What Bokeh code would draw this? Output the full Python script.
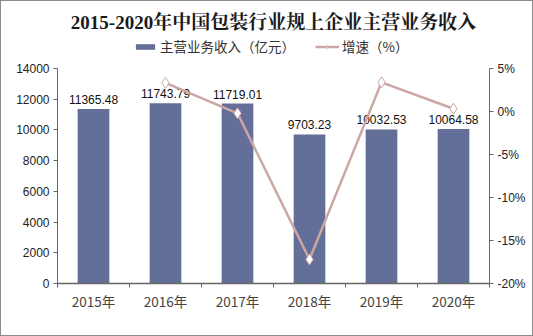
from bokeh.plotting import figure
from bokeh.models import (Range1d, LinearAxis, FixedTicker, PrintfTickFormatter,
                          Legend, LegendItem, ColumnDataSource)
from bokeh.core.properties import value
from bokeh.embed import file_html
from bokeh.resources import INLINE

years = ["2015年", "2016年", "2017年", "2018年", "2019年", "2020年"]
revenue = [11365.48, 11743.79, 11719.01, 9703.23, 10032.53, 10064.58]
growth = [None, 3.33, -0.21, -17.20, 3.39, 0.32]
rev_labels = ["11365.48", "11743.79", "11719.01", "9703.23", "10032.53", "10064.58"]
rev_ticks = [0, 2000, 4000, 6000, 8000, 10000, 12000, 14000]
pct_ticks = [-20, -15, -10, -5, 0, 5]

xs = [i + 0.5 for i in range(len(years))]
BAR = "#646f99"
LINE = "#cba6a4"
CJK = "Noto Sans CJK SC"

W, H = 533, 336
TOP, BOTTOM, LEFT, RIGHT = 32, 54, 56, 45
AX_TOP = 67  # pixel row of 14000 / 5%
frame_h = H - TOP - BOTTOM
axis_h = H - AX_TOP - BOTTOM
y_end = rev_ticks[-1] * frame_h / axis_h
p_end = pct_ticks[0] + (pct_ticks[-1] - pct_ticks[0]) * frame_h / axis_h

p = figure(width=W, height=H, output_backend="svg", toolbar_location=None,
           x_range=Range1d(0, 6), y_range=Range1d(0, y_end),
           min_border_left=LEFT, min_border_right=RIGHT, min_border_top=TOP,
           min_border_bottom=BOTTOM)
p.styles = {"border": "1px solid #8c8c8c", "box-sizing": "border-box"}
p.extra_y_ranges = {"pct": Range1d(pct_ticks[0], p_end)}
p.xgrid.visible = False
p.ygrid.visible = False
p.outline_line_color = None

p.title.text = "2015-2020年中国包装行业规上企业主营业务收入"
p.title.align = "center"
p.title.text_font = "Liberation Serif, Noto Serif CJK SC, " + CJK
p.title.text_font_size = "19px"
p.title.text_font_style = "bold"
p.title.text_color = "#1a1a1a"
p.title.offset = 0
p.title.standoff = 2

src = ColumnDataSource(dict(x=xs, rev=revenue, lab=rev_labels))
bars = p.vbar(x="x", top="rev", width=0.44, source=src, fill_color=BAR, line_color=None)
p.text(x="x", y="rev", text="lab", source=src, text_align="center", text_baseline="bottom",
       y_offset=-5, text_font=value("Liberation Sans"), text_font_size="12px", text_color="#111111")

gx = [xs[i] for i in range(1, 6)]
gy = [growth[i] for i in range(1, 6)]
ln = p.line(gx, gy, y_range_name="pct", line_color=LINE, line_width=2.5)
mk = p.scatter(gx, gy, y_range_name="pct", marker="diamond", size=11,
               fill_color="white", line_color=LINE, line_width=1)

# axes
xa = p.xaxis[0]
xa.ticker = FixedTicker(ticks=xs, minor_ticks=list(range(0, 7)))
xa.major_label_overrides = {x: y for x, y in zip(xs, years)}
xa.major_tick_line_color = None
xa.minor_tick_in = 0
xa.minor_tick_out = 4
xa.minor_tick_line_color = "#666666"
xa.axis_line_color = "#666666"
xa.axis_line_width = 1.5
xa.major_label_text_font = CJK
xa.major_label_text_font_size = "13.5px"
xa.major_label_text_color = "#444444"
xa.major_label_standoff = 1

ya = p.yaxis[0]
ya.ticker = FixedTicker(ticks=rev_ticks)
ya.bounds = (rev_ticks[0], rev_ticks[-1])
ya.minor_tick_line_color = None
ya.major_tick_in = 0
ya.major_tick_out = 4
ya.axis_line_color = "#666666"
ya.major_tick_line_color = "#666666"
ya.major_label_text_font = "Liberation Sans"
ya.major_label_text_font_size = "12px"
ya.major_label_text_color = "#222222"
ya.major_label_standoff = 4

ra = LinearAxis(y_range_name="pct", ticker=FixedTicker(ticks=pct_ticks),
                formatter=PrintfTickFormatter(format="%d%%"))
ra.bounds = (pct_ticks[0], pct_ticks[-1])
ra.minor_tick_line_color = None
ra.major_tick_in = 0
ra.major_tick_out = 4
ra.axis_line_color = "#666666"
ra.major_tick_line_color = "#666666"
ra.major_label_text_font = "Liberation Sans"
ra.major_label_text_font_size = "12px"
ra.major_label_text_color = "#222222"
ra.major_label_standoff = 4
p.add_layout(ra, "right")

legend = Legend(items=[LegendItem(label="主营业务收入（亿元）", renderers=[bars]),
                       LegendItem(label="增速（%）", renderers=[ln, mk])],
                orientation="horizontal", location=(76, frame_h - 23),
                label_text_font=CJK, label_text_font_size="13.5px", label_text_color="#333333",
                glyph_width=24, glyph_height=7, spacing=20, label_standoff=3,
                border_line_color=None, background_fill_alpha=0, margin=0, padding=2)
p.add_layout(legend, "center")

open("out.html", "w").write(file_html(p, INLINE))
